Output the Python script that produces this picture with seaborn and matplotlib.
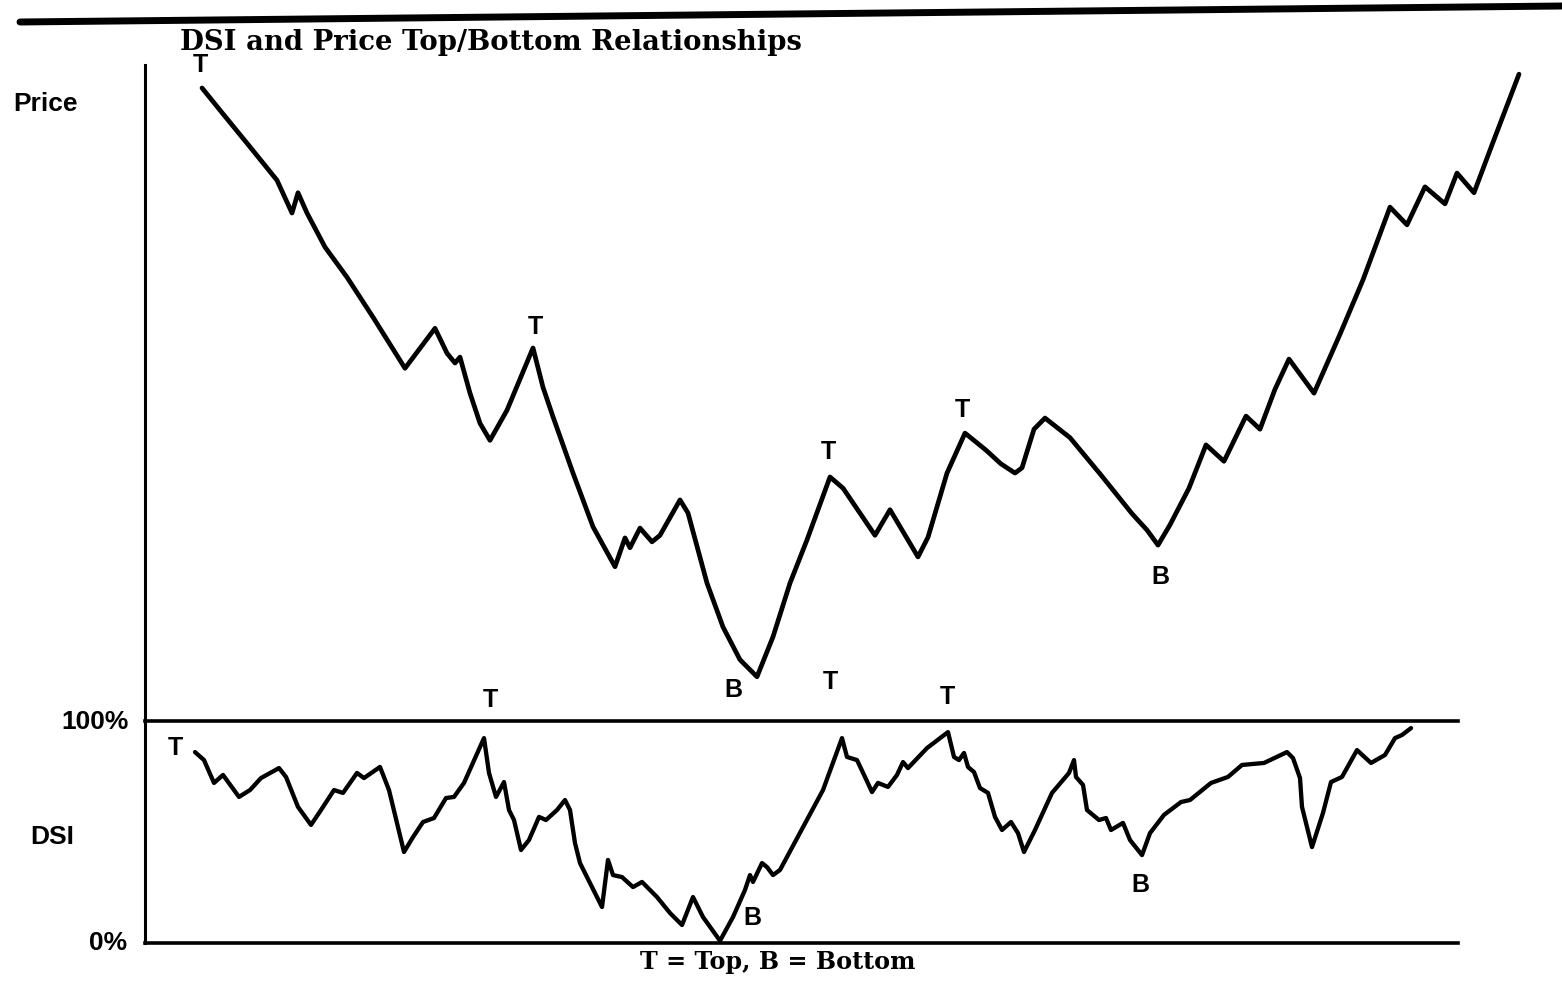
import matplotlib
matplotlib.use("Agg")
import matplotlib.pyplot as plt
from matplotlib.lines import Line2D
import pandas as pd
import seaborn as sns

# Price path (weeks, index level)
price_week = [5.7, 7.5, 10.5, 13.2, 14.7, 15.3, 16.2, 18.0, 20.2, 22.8, 26.0, 29.0, 30.2, 31.0, 31.5,
              32.5, 33.5, 34.5, 36.2, 38.8, 39.8, 40.8, 42.8, 44.8, 47.0, 48.0, 48.5, 49.5, 50.7, 51.5,
              53.5, 54.3, 56.2, 57.8, 59.5, 61.2, 62.8, 64.5, 66.2, 68.5, 69.8, 73.0, 74.5, 77.3, 78.3,
              80.2, 82.0, 84.1, 85.6, 87.0, 87.7, 88.9, 90.0, 92.5, 95.6, 98.7, 100.2, 101.3, 102.5, 104.4,
              106.1, 107.9, 110.1, 111.5, 113.0, 114.4, 116.9, 119.5, 121.8, 124.5, 126.2, 128.0, 130.0,
              131.2, 132.9, 134.7, 137.4]
price_level = [96.5, 93.1, 87.5, 82.4, 77.4, 80.5, 77.4, 72.2, 67.6, 61.5, 53.7, 59.8, 56.0, 54.5, 55.4,
               49.9, 45.3, 42.7, 47.3, 56.8, 50.8, 46.3, 37.7, 29.5, 23.4, 27.8, 26.3, 29.3, 27.2, 28.2,
               33.6, 31.6, 20.9, 14.2, 9.2, 6.6, 12.7, 20.9, 27.5, 37.1, 35.4, 28.2, 32.1, 24.9, 27.9,
               37.7, 43.8, 41.2, 39.1, 37.7, 38.5, 44.4, 46.1, 43.1, 37.4, 31.5, 29.0, 26.7, 29.8, 35.4,
               42.0, 39.5, 46.4, 44.4, 50.5, 55.1, 49.9, 58.9, 67.2, 78.3, 75.6, 81.4, 78.8,
               83.5, 80.5, 87.8, 98.6]

# Daily Sentiment Index (percent)
dsi_week = [5.0, 5.9, 6.9, 7.8, 9.4, 10.5, 11.6, 13.4, 14.1, 15.3, 16.6, 17.6, 18.9, 19.8, 21.2, 21.9,
            23.5, 24.4, 25.9, 26.8, 27.8, 28.9, 30.1, 30.9, 31.9, 33.9, 34.4, 35.1, 35.9, 36.4, 36.9,
            37.6, 38.4, 38.7, 39.4, 40.1, 41.2, 42.0, 42.5, 43.0, 43.5, 45.7, 46.3, 46.8, 47.7, 48.8,
            49.7, 51.2, 52.5, 53.7, 54.8, 55.8, 57.5, 58.8, 60.0, 60.5, 60.8, 61.7, 62.2, 62.8, 63.5,
            67.8, 69.7, 70.2, 71.2, 72.0, 72.7, 73.3, 74.3, 75.2, 75.8, 76.3, 78.2, 80.3, 80.9, 81.4,
            81.9, 82.3, 82.9, 83.5, 84.3, 85.0, 85.7, 86.6, 87.3, 87.9, 89.0, 90.7, 92.4, 92.9, 93.1,
            93.8, 94.2, 95.4, 96.1, 96.6, 97.8, 98.5, 99.7, 100.5, 101.9, 103.6, 104.5, 106.6, 108.3,
            109.7, 111.9, 114.2, 114.8, 115.5, 115.7, 116.7, 117.8, 118.6, 119.7, 121.2, 122.6, 124.0,
            125.0, 125.7, 126.6]
dsi_pct = [86.0, 82.4, 72.1, 75.7, 65.8, 68.9, 74.3, 78.8, 74.8, 61.3, 53.2, 59.9, 68.9, 67.6, 76.6, 74.3,
           79.3, 68.9, 41.0, 47.7, 54.5, 56.3, 65.3, 65.8, 72.1, 92.3, 76.6, 65.8, 72.5, 59.9, 55.4,
           41.9, 46.4, 49.5, 56.8, 55.4, 59.9, 64.4, 59.9, 45.0, 36.0, 16.2, 37.4, 30.6, 29.7, 25.2,
           27.5, 20.7, 13.5, 8.1, 20.7, 11.7, 1.0, 11.7, 23.9, 30.6, 27.5, 36.0, 34.2, 30.6, 32.9,
           68.9, 92.3, 83.8, 82.4, 74.8, 68.0, 72.1, 70.3, 75.7, 81.5, 78.8, 87.8, 95.0, 83.8, 82.4,
           85.6, 79.3, 77.0, 69.8, 67.6, 56.8, 50.9, 54.5, 49.5, 41.0, 50.9, 67.6, 76.6, 82.4, 74.8,
           71.2, 59.9, 55.4, 56.3, 50.9, 54.1, 46.4, 39.6, 49.5, 57.7, 63.5, 64.4, 72.1, 74.8,
           80.2, 81.1, 86.0, 83.3, 74.3, 61.3, 43.2, 58.6, 72.5, 74.8, 86.9, 81.1, 84.7,
           92.3, 93.7, 96.8]

# Top / bottom markers
price_marks = ["T", "T", "B", "T", "T", "B"]
price_mark_week = [5.5, 39.0, 58.8, 68.3, 81.7, 101.5]
price_mark_level = [100.0, 60.0, 4.6, 40.9, 47.3, 21.8]
dsi_marks = ["T", "T", "B", "T", "T", "B"]
dsi_mark_week = [3.0, 34.5, 60.7, 68.5, 80.2, 99.5]
dsi_mark_pct = [87.8, 109.5, 11.3, 117.6, 110.8, 26.1]

price_df = pd.DataFrame({"week": price_week, "price": price_level})
dsi_df = pd.DataFrame({"week": dsi_week, "dsi": dsi_pct})

sns.set_style("white")
plt.rcParams['font.family'] = ['Liberation Sans', 'DejaVu Sans']
plt.rcParams['text.color'] = 'black'

W, H = 1562, 988
fig = plt.figure(figsize=(W / 100, H / 100), dpi=100)


def box(x0, y0, x1, y1):
    # pixel box -> figure fractions
    return [x0 / W, 1 - y1 / H, (x1 - x0) / W, (y1 - y0) / H]


def fx(x):
    return x / W


def fy(y):
    return 1 - y / H


ax_p = fig.add_axes(box(145, 65, 1545, 720))
ax_d = fig.add_axes(box(145, 721, 1458, 943))

sns.lineplot(data=price_df, x="week", y="price", ax=ax_p, color="black", lw=3.4,
             sort=False, estimator=None, solid_joinstyle="round", solid_capstyle="round")
sns.lineplot(data=dsi_df, x="week", y="dsi", ax=ax_d, color="black", lw=3.1,
             sort=False, estimator=None, solid_joinstyle="round", solid_capstyle="round")

ax_p.set_xlim(0, 140)
ax_p.set_ylim(0, 100)
ax_d.set_xlim(0, 131.3)
ax_d.set_ylim(0, 100)

for ax in (ax_p, ax_d):
    ax.set_xticks([])
    ax.set_yticks([])
    ax.set(xlabel="", ylabel="")
    ax.patch.set_alpha(0)
    for s in ax.spines.values():
        s.set_color("black")
        s.set_linewidth(2.2)

for s in ("top", "right", "bottom"):
    ax_p.spines[s].set_visible(False)
ax_d.spines["right"].set_visible(False)
ax_d.spines["top"].set_linewidth(2.6)
ax_d.spines["bottom"].set_linewidth(2.6)

for lab, wk, lv in zip(price_marks, price_mark_week, price_mark_level):
    ax_p.text(wk, lv, lab, ha="center", va="center", fontsize=18, fontweight="bold",
              color="black", clip_on=False)
for lab, wk, lv in zip(dsi_marks, dsi_mark_week, dsi_mark_pct):
    ax_d.text(wk, lv, lab, ha="center", va="center", fontsize=18, fontweight="bold",
              color="black", clip_on=False)

# axis captions
fig.text(fx(13), fy(104), "Price", ha="left", va="center", fontsize=19, fontweight="bold")
fig.text(fx(129), fy(722), "100%", ha="right", va="center", fontsize=19, fontweight="bold")
fig.text(fx(30), fy(837), "DSI", ha="left", va="center", fontsize=19, fontweight="bold")
fig.text(fx(127), fy(943), "0%", ha="right", va="center", fontsize=19, fontweight="bold")

fig.text(fx(180), fy(50), "DSI and Price Top/Bottom Relationships", ha="left", va="baseline",
         fontsize=19.8, fontweight="bold", family=["DejaVu Serif"])
fig.text(fx(778), fy(969), "T = Top, B = Bottom", ha="center", va="baseline",
         fontsize=17.2, fontweight="bold", family=["DejaVu Serif"])

fig.add_artist(Line2D([fx(20), fx(1562)], [fy(22), fy(6)], lw=5, color="black",
                      transform=fig.transFigure))

fig.savefig("out.png", dpi=100, facecolor="white")
